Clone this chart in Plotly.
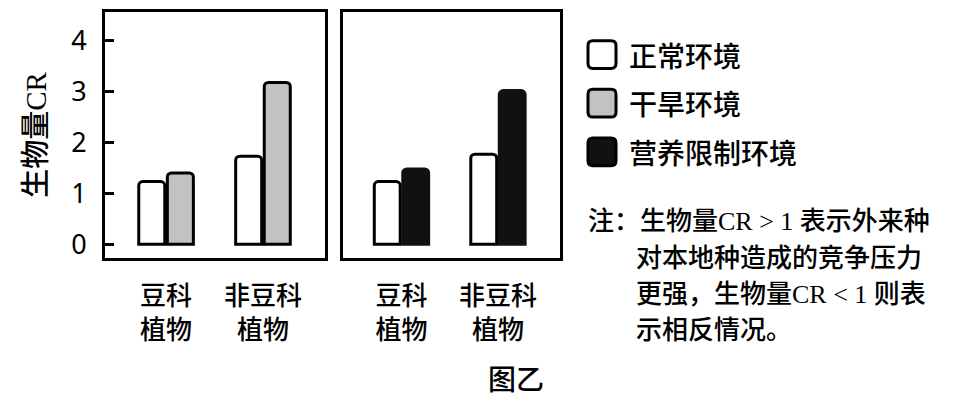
import plotly.graph_objects as go
from plotly.subplots import make_subplots

# values
categories = ["豆科<br>植物", "非豆科<br>植物"]
normal_a = [1.23, 1.73]      # 正常环境 (left panel)
drought = [1.40, 3.18]       # 干旱环境
normal_b = [1.23, 1.77]      # 正常环境 (right panel)
nutrient = [1.48, 3.02]      # 营养限制环境
y_ticks = [0, 1, 2, 3, 4]

legend_names = ["正常环境", "干旱环境", "营养限制环境"]
legend_colors = ["white", "#c2c2c2", "#111111"]
note_lines = ["注：生物量CR > 1 表示外来种",
              "对本地种造成的竞争压力",
              "更强，生物量CR < 1 则表",
              "示相反情况。"]

W, H = 969, 403
CJK = "Noto Sans CJK SC"
MIX = "Liberation Serif, Noto Sans CJK SC"
WT = 500


def px(x):
    return x / W


def py(y):
    return 1 - y / H


def rounded_rect(x0, y0, x1, y1, r):
    # pixel box -> paper path with rounded corners
    pts = [
        ("M", x0 + r, y0), ("L", x1 - r, y0), ("Q", x1, y0, x1, y0 + r),
        ("L", x1, y1 - r), ("Q", x1, y1, x1 - r, y1), ("L", x0 + r, y1),
        ("Q", x0, y1, x0, y1 - r), ("L", x0, y0 + r), ("Q", x0, y0, x0 + r, y0),
    ]
    out = []
    for p in pts:
        s = p[0]
        coords = p[1:]
        for i in range(0, len(coords), 2):
            s += " %.5f,%.5f" % (px(coords[i]), py(coords[i + 1]))
        out.append(s)
    return " ".join(out) + " Z"


fig = make_subplots(rows=1, cols=2)

bar_style = dict(marker_line_width=3, marker_cornerradius=4, showlegend=False)
fig.add_trace(go.Bar(x=categories, y=normal_a, name=legend_names[0],
                     marker_color=legend_colors[0], marker_line_color="black",
                     **bar_style), row=1, col=1)
fig.add_trace(go.Bar(x=categories, y=drought, name=legend_names[1],
                     marker_color=legend_colors[1], marker_line_color="black",
                     **bar_style), row=1, col=1)
fig.add_trace(go.Bar(x=categories, y=normal_b, name=legend_names[0],
                     marker_color=legend_colors[0], marker_line_color="black",
                     **bar_style), row=1, col=2)
fig.add_trace(go.Bar(x=categories, y=nutrient, name=legend_names[2],
                     marker_color=legend_colors[2], marker_line_color="#111111",
                     **bar_style), row=1, col=2)

axis_box = dict(showline=True, mirror=True, linecolor="black", linewidth=3,
                showgrid=False, zeroline=False)

fig.update_xaxes(axis_box, ticks="",
                 tickfont=dict(family=CJK, size=26, color="black", weight=WT),
                 ticklabelstandoff=13)
fig.update_xaxes(domain=[px(105), px(325)], range=[-0.63, 1.64], row=1, col=1)
fig.update_xaxes(domain=[px(343), px(560)], range=[-0.606, 1.643], row=1, col=2)

fig.update_yaxes(axis_box, range=[-0.273, 4.566], domain=[py(260), py(12)])
fig.update_yaxes(tickvals=y_ticks, ticks="inside", ticklen=9, tickwidth=3,
                 tickcolor="black", ticklabelstandoff=10,
                 tickfont=dict(family="Noto Sans", size=27, color="black"),
                 title=dict(text="生物量CR", standoff=16,
                            font=dict(family=MIX, size=29, color="black",
                                      weight=WT)),
                 row=1, col=1)
fig.update_yaxes(showticklabels=False, ticks="", row=1, col=2)

# legend keys and labels
rows_y = [55, 104, 153]
for name, color, yc in zip(legend_names, legend_colors, rows_y):
    fig.add_shape(type="path", xref="paper", yref="paper",
                  path=rounded_rect(588, yc - 14, 616, yc + 14, 5),
                  fillcolor=color, line=dict(color="black", width=3))
    fig.add_annotation(x=px(627), y=py(yc), xref="paper", yref="paper",
                       text=name, showarrow=False, xanchor="left", yanchor="middle",
                       font=dict(family=CJK, size=28, color="black", weight=WT))

# note text
note_x = [586, 634, 634, 634]
note_y = [223, 260, 297, 333]
for line, nx, ny in zip(note_lines, note_x, note_y):
    fig.add_annotation(x=px(nx), y=py(ny), xref="paper", yref="paper",
                       text=line, showarrow=False, xanchor="left", yanchor="middle",
                       font=dict(family=MIX, size=26, color="black", weight=WT))

fig.add_annotation(x=px(516), y=py(381), xref="paper", yref="paper",
                   text="图乙", showarrow=False, xanchor="center", yanchor="middle",
                   font=dict(family=CJK, size=28, color="black", weight=WT))

fig.update_layout(width=W, height=H, autosize=False,
                  margin=dict(l=0, r=0, t=0, b=0),
                  barmode="group", bargap=0.41, bargroupgap=0.09,
                  plot_bgcolor="white", paper_bgcolor="white")

# the page body has a default 8px margin; drop it so the figure sits at 0,0
fig.write_html("out.html", config={"displayModeBar": False},
               post_script="document.body.style.margin='0';")
